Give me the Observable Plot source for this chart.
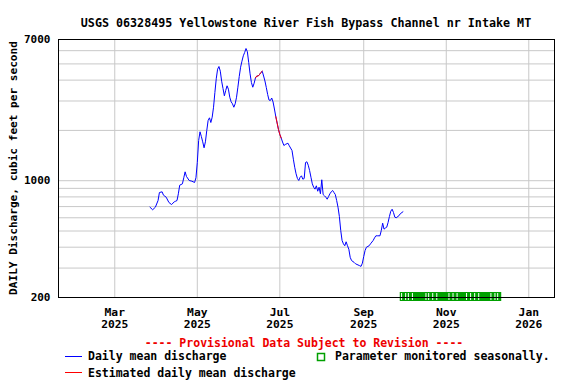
<!DOCTYPE html>
<html><head><meta charset="utf-8">
<script src="https://cdn.jsdelivr.net/npm/d3@7"></script>
<script src="https://cdn.jsdelivr.net/npm/@observablehq/plot@0.6"></script>
<style>
body{margin:0;background:#fff;}
svg text{font-family:"DejaVu Sans Mono",monospace;font-weight:bold;}
</style>
</head><body><div id="chart"></div>
<script>
const title = "USGS 06328495 Yellowstone River Fish Bypass Channel nr Intake MT";
const yLabel = "DAILY Discharge, cubic feet per second";
const provisional = "---- Provisional Data Subject to Revision ----";
const legendDaily = "Daily mean discharge";
const legendEst = "Estimated daily mean discharge";
const legendSeasonal = "Parameter monitored seasonally.";

const marchApril = ["2025-03-27","2025-03-29","2025-03-31","2025-04-02","2025-04-03","2025-04-05","2025-04-06","2025-04-08","2025-04-10","2025-04-12","2025-04-14","2025-04-15","2025-04-16","2025-04-17","2025-04-18","2025-04-20","2025-04-21","2025-04-22","2025-04-23","2025-04-25","2025-04-27","2025-04-29","2025-04-30"];
const marchAprilCfs = [694,670,694,761,850,858,819,797,741,720,748,754,761,835,940,958,1041,1130,1060,1003,993,976,1041];
// May 1..31 (daily)
const mayCfs = [1285,1740,1962,1839,1709,1574,1709,1997,2293,2379,2230,2399,2753,3372,4073,4649,4825,4522,3940,3563,3222,3466,3698,3529,3160,2966,2886,2753,2886,3160,3627];
// June 1..30 (daily)
const juneCfs = [4204,4778,5190,5591,5851,6183,5908,5098,4363,3870,3627,3833,4129,4233,4233,4321,4442,4522,4233,3951,3612,3280,3041,3020,3126,2958,2686,2422,2215,2025];
const julyDays = [1,2,3,4,5,7,8,10,11,12,13,14,15,16,17,18,19,20,21,22,23,24,25,26,27,28,29,30,31];
const julyCfs = [1890,1801,1705,1624,1647,1677,1618,1516,1345,1204,1100,1031,1003,1049,1070,1021,1031,1285,1298,1238,1151,1049,958,914,890,932,865,914,835];
const augustDays = [1,2,3,4,5,6,7,8,9,10,11,12,13,14,15,16,17,18,19,20,21,22,23,25,26,29,30,31];
const augustCfs = [1013,827,812,797,775,804,835,858,874,850,827,761,694,611,504,439,419,408,431,408,389,348,333,324,318,310,307,321];
const septemberDays = [1,2,3,5,6,8,9,10,11,13,14,15,16,17,18,19,20,21,22,23,24,25,27,28,30];
const septemberCfs = [352,382,400,408,419,439,455,468,468,468,504,557,513,521,527,562,611,657,675,645,605,600,617,634,652];

const estimatedPeriods = [["2025-06-13","2025-06-18"],["2025-06-28","2025-07-02"]];
const seasonalPeriod = ["2025-09-28","2025-12-12"];
const seasonalMarks = ["2025-09-29","2025-10-02","2025-10-04","2025-10-07","2025-10-17","2025-10-19","2025-10-22","2025-10-25","2025-11-03","2025-11-06","2025-11-09","2025-11-16","2025-11-19","2025-11-22","2025-11-25","2025-12-04","2025-12-07","2025-12-09"];

const xTicks = ["2025-03-01","2025-05-01","2025-07-01","2025-09-01","2025-11-01","2026-01-01"];
const xDomain = ["2025-01-18T10:00Z","2026-01-20T00:00Z"];
const yDomain = [200, 7000];
const yTickLabels = [200, 1000, 7000];
const yGrid = [300,400,500,600,700,800,900,1000,2000,3000,4000,5000,6000];

const pad = n => String(n).padStart(2,"0");
const data = [];
marchApril.forEach((d,i) => data.push({date: new Date(d), cfs: marchAprilCfs[i]}));
mayCfs.forEach((v,i) => data.push({date: new Date(`2025-05-${pad(i+1)}`), cfs: v}));
juneCfs.forEach((v,i) => data.push({date: new Date(`2025-06-${pad(i+1)}`), cfs: v}));
julyDays.forEach((d,i) => data.push({date: new Date(`2025-07-${pad(d)}`), cfs: julyCfs[i]}));
augustDays.forEach((d,i) => data.push({date: new Date(`2025-08-${pad(d)}`), cfs: augustCfs[i]}));
septemberDays.forEach((d,i) => data.push({date: new Date(`2025-09-${pad(d)}`), cfs: septemberCfs[i]}));

const est = [];
estimatedPeriods.forEach(([a,b],k) => {
  const s = new Date(a), e = new Date(b);
  data.filter(p => p.date >= s && p.date <= e).forEach(p => est.push({...p, seg: k}));
});
const seasonal = [{start: new Date(seasonalPeriod[0]), end: new Date(seasonalPeriod[1])}];

const plot = Plot.plot({
  width: 576, height: 384,
  marginLeft: 58, marginRight: 22, marginTop: 39, marginBottom: 87,
  style: {fontFamily: "DejaVu Sans Mono", fontSize: "11.3px", fontWeight: "bold", background: "white", color: "black", overflow: "visible"},
  x: {type: "utc", domain: xDomain.map(d => new Date(d))},
  y: {type: "log", domain: yDomain, axis: null},
  marks: [
    Plot.gridX(xTicks.map(d => new Date(d)), {stroke: "#c8c8c8", strokeOpacity: 1}),
    Plot.gridY(yGrid, {stroke: "#c8c8c8", strokeOpacity: 1}),
    Plot.lineY(data, {x: "date", y: "cfs", stroke: "#0000ff", strokeWidth: 1}),
    Plot.line(est, {x: "date", y: "cfs", z: "seg", stroke: "#ff0000", strokeWidth: 1}),
    Plot.rect(seasonal, {x1: "start", x2: "end", y1: 200, y2: 200, fill: "#00a000", insetTop: -5, insetBottom: -4}),
    Plot.ruleX(seasonalMarks.map(d => new Date(d)), {y1: 200, y2: 200, insetTop: -4, insetBottom: -3, stroke: "white"}),
    Plot.frame({stroke: "black"}),
    Plot.text(yTickLabels, {y: d => d, frameAnchor: "left", dx: -8, textAnchor: "end", text: d => String(d), fontSize: 11, fill: "black"}),
    Plot.axisX(xTicks.map(d => new Date(d)), {tickSize: 0, tickPadding: 10, tickFormat: d3.utcFormat("%b\n%Y"), lineHeight: 1.06, label: null})
  ]
});

const svg = d3.select(plot);
const addText = (x, y, txt, size, fill, anchor) => svg.append("text")
  .attr("x", x).attr("y", y).attr("text-anchor", anchor || "start")
  .style("font-size", size).attr("fill", fill).text(txt);
addText(306, 26.5, title, "11.7px", "black", "middle");
svg.append("text").attr("transform", "translate(17,168) rotate(-90)").attr("text-anchor", "middle")
  .style("font-size", "11.1px").attr("fill", "black").text(yLabel);
addText(304, 347, provisional, "11.5px", "#ee0000", "middle");
svg.append("line").attr("x1", 65).attr("x2", 82).attr("y1", 356.5).attr("y2", 356.5).attr("stroke", "#0000ff");
addText(88, 360, legendDaily, "11.5px", "black");
svg.append("line").attr("x1", 65).attr("x2", 82).attr("y1", 372.5).attr("y2", 372.5).attr("stroke", "#ff0000");
addText(88, 376.5, legendEst, "11.5px", "black");
svg.append("rect").attr("x", 317.5).attr("y", 353.5).attr("width", 7).attr("height", 7).attr("fill", "none").attr("stroke", "#00a000").attr("stroke-width", 1.5);
addText(335, 360, legendSeasonal, "11.5px", "black");

document.getElementById("chart").appendChild(plot);
</script>
</body></html>
